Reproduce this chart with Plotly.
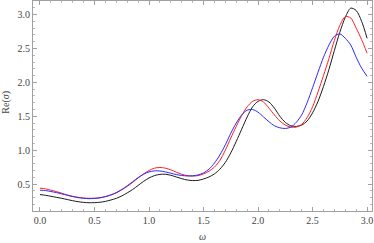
import plotly.graph_objects as go

omega = [round(i * 0.05, 2) for i in range(61)]

black = [0.345, 0.335, 0.32, 0.305, 0.29, 0.272, 0.255, 0.24, 0.23, 0.225,
         0.226, 0.232, 0.245, 0.265, 0.29, 0.325, 0.37, 0.42, 0.48, 0.54,
         0.59, 0.625, 0.643, 0.645, 0.63, 0.605, 0.58, 0.56, 0.552, 0.555,
         0.575, 0.605, 0.65, 0.72, 0.82, 0.96, 1.13, 1.31, 1.49, 1.64,
         1.72, 1.745, 1.71, 1.62, 1.50, 1.41, 1.36, 1.35, 1.37, 1.43,
         1.55, 1.72, 1.94, 2.19, 2.47, 2.74, 2.96, 3.095, 3.06, 2.90, 2.65]

red = [0.44, 0.43, 0.41, 0.39, 0.365, 0.34, 0.32, 0.305, 0.295, 0.29,
       0.292, 0.30, 0.315, 0.34, 0.37, 0.415, 0.465, 0.525, 0.59, 0.65,
       0.70, 0.735, 0.745, 0.735, 0.71, 0.675, 0.645, 0.625, 0.618, 0.625,
       0.65, 0.69, 0.75, 0.85, 1.0, 1.18, 1.35, 1.51, 1.64, 1.72,
       1.745, 1.71, 1.62, 1.52, 1.43, 1.37, 1.34, 1.34, 1.38, 1.48,
       1.64, 1.86, 2.10, 2.35, 2.62, 2.84, 2.97, 2.95, 2.80, 2.63, 2.43]

blue = [0.41, 0.405, 0.39, 0.375, 0.355, 0.335, 0.315, 0.30, 0.29, 0.285,
        0.288, 0.297, 0.315, 0.34, 0.375, 0.42, 0.475, 0.535, 0.595, 0.645,
        0.68, 0.695, 0.693, 0.68, 0.66, 0.64, 0.627, 0.62, 0.622, 0.635,
        0.665, 0.72, 0.81, 0.93, 1.08, 1.25, 1.40, 1.52, 1.59, 1.60,
        1.56, 1.49, 1.42, 1.36, 1.33, 1.32, 1.34, 1.41, 1.52, 1.70,
        1.92, 2.15, 2.37, 2.55, 2.68, 2.715, 2.65, 2.55, 2.37, 2.21, 2.09]

x_ticks = [0.0, 0.5, 1.0, 1.5, 2.0, 2.5, 3.0]
x_tick_labels = ["0.0", "0.5", "1.0", "1.5", "2.0", "2.5", "3.0"]
y_ticks = [0.5, 1.0, 1.5, 2.0, 2.5, 3.0]
y_tick_labels = ["0.5", "1.0", "1.5", "2.0", "2.5", "3.0"]

SERIF = "Liberation Serif, Times New Roman, DejaVu Serif, serif"

fig = go.Figure()
for ys, col in [(black, "#1a1a1a"), (red, "#ff2020"), (blue, "#2a2aff")]:
    fig.add_trace(go.Scatter(x=omega, y=ys, mode="lines",
                             line=dict(color=col, width=1, shape="spline", smoothing=0.8),
                             showlegend=False, hoverinfo="skip"))

font = dict(family=SERIF, size=10, color="#444444")
axis_common = dict(showgrid=False, zeroline=False, showline=True, linecolor="#a0a0a0",
                   linewidth=1, mirror="allticks", ticks="inside", ticklen=4,
                   tickcolor="#a0a0a0", tickwidth=1, tickfont=font, automargin=False,
                   minor=dict(ticks="inside", ticklen=2, tickcolor="#b8b8b8", dtick=0.1))

fig.update_xaxes(range=[-0.064, 3.045], tickvals=x_ticks, ticktext=x_tick_labels, **axis_common)
fig.update_yaxes(range=[0.103, 3.2], tickvals=y_ticks, ticktext=y_tick_labels, **axis_common)

fig.add_annotation(text="<i>ω</i>", xref="paper", yref="paper", x=0.5, y=-0.12,
                   xanchor="center", yanchor="middle", showarrow=False,
                   font=dict(family=SERIF, size=10, color="#444444"))
fig.add_annotation(text="Re(<i>σ</i>)", xref="paper", yref="paper", x=-0.08, y=0.52,
                   xanchor="center", yanchor="middle", showarrow=False, textangle=-90,
                   font=dict(family=SERIF, size=10, color="#444444"))

fig.update_layout(width=374, height=243, margin=dict(l=33, r=2, t=1, b=32),
                  paper_bgcolor="white", plot_bgcolor="white")

fig.write_html("out.html", config={"displayModeBar": False, "staticPlot": True},
               post_script="document.body.style.margin='0';document.body.style.overflow='hidden';")
